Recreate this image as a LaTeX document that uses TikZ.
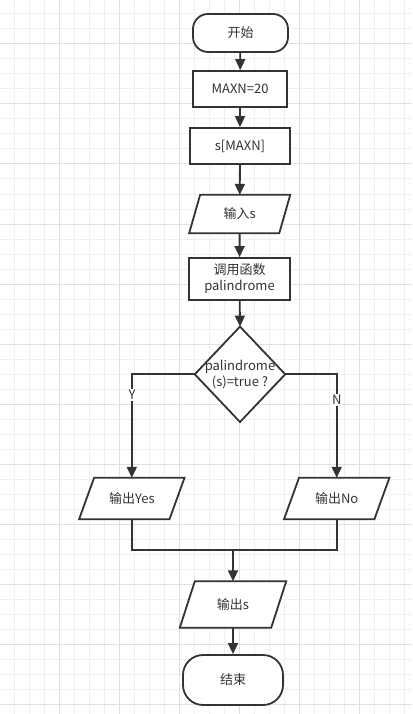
\documentclass[tikz,border=0pt]{standalone}
\usepackage{fontspec}
\setmainfont{Noto Sans CJK SC}
\usetikzlibrary{arrows.meta,calc}
\definecolor{ln}{HTML}{333333}
\definecolor{gminor}{HTML}{EFEFEF}
\definecolor{gmajor}{HTML}{E0E0E0}
\tikzset{
  box/.style={draw=ln,line width=1.8pt,fill=white,inner sep=0pt,align=center,text=ln},
  blank/.style={draw=none,inner sep=0pt,align=center,text=ln},
  conn/.style={draw=ln,line width=1.8pt},
  arr/.style={conn,-{Triangle[length=11pt,width=10pt]}},
  lab/.style={fill=white,inner sep=1pt,text=ln}
}
\newcommand{\mypara}[2]{%
  \draw[draw=ln,line width=1.8pt,fill=white,line join=miter]
    ($(#1.north west)+(#2,0)$) -- (#1.north east) -- ($(#1.south east)-(#2,0)$) -- (#1.south west) -- cycle;}
\begin{document}
\begin{tikzpicture}[x=1pt,y=-1pt,font=\fontsize{13pt}{16pt}\selectfont]
\useasboundingbox (0,0) rectangle (412,714);
\fill[white] (0,0) rectangle (412,714);
% grid
\foreach \i in {-1,14,...,412} \draw[gminor,line width=1pt] (\i,0) -- (\i,714);
\foreach \j in {-1,14,...,714} \draw[gminor,line width=1pt] (0,\j) -- (412,\j);
\foreach \i in {59,119,...,412} \draw[gmajor,line width=1pt] (\i,0) -- (\i,714);
\foreach \j in {44,104,...,714} \draw[gmajor,line width=1pt] (0,\j) -- (412,\j);

% nodes
\node[box,rounded corners=15pt,minimum width=95pt,minimum height=38pt] (start) at (240.5,33) {开始};
\node[box,minimum width=94pt,minimum height=36pt] (maxn) at (240,89) {MAXN=20};
\node[box,minimum width=100pt,minimum height=36pt] (sarr) at (240,146) {s[MAXN]};
\node[blank,minimum width=100.7pt,minimum height=38pt] (inp) at (239.7,214) {};
\mypara{inp}{11}
\node[blank] at (inp) {输入s};
\node[box,minimum width=101pt,minimum height=42pt] (call) at (239.5,279) {调用函数\\palindrome};
\node[blank,minimum width=90pt,minimum height=95pt] (dec) at (240,374.3) {};
\draw[draw=ln,line width=1.8pt,fill=white] (dec.north) -- (dec.east) -- (dec.south) -- (dec.west) -- cycle;
\node[blank] at (dec) {palindrome\\(s)=true ?};
\node[blank,minimum width=105pt,minimum height=41pt] (yes) at (131.8,498.5) {};
\mypara{yes}{15}
\node[blank] at (yes) {输出Yes};
\node[blank,minimum width=105pt,minimum height=41pt] (no) at (336.7,498.5) {};
\mypara{no}{15}
\node[blank] at (no) {输出No};
\node[blank,minimum width=106pt,minimum height=46pt] (outs) at (233,604.5) {};
\mypara{outs}{15}
\node[blank] at (outs) {输出s};
\node[box,rounded corners=20pt,minimum width=100pt,minimum height=50pt] (fin) at (233,680) {结束};
\coordinate (m) at (233,550);

% connectors
\draw[arr] (start) -- (maxn);
\draw[arr] (maxn) -- (sarr);
\draw[arr] (sarr) -- (inp);
\draw[arr] (inp) -- (call);
\draw[arr] (call) -- (dec.north);
\draw[arr] (dec.west) -| (yes.north);
\draw[arr] (dec.east) -| (no.north);
\node[lab] at (132,395) {Y};
\node[lab] at (336.7,400) {N};
\draw[conn] (yes.south) |- (m) -| (no.south);
\draw[arr] (m) -- (outs.north);
\draw[arr] (outs.south) -- (fin.north);
\end{tikzpicture}
\end{document}
